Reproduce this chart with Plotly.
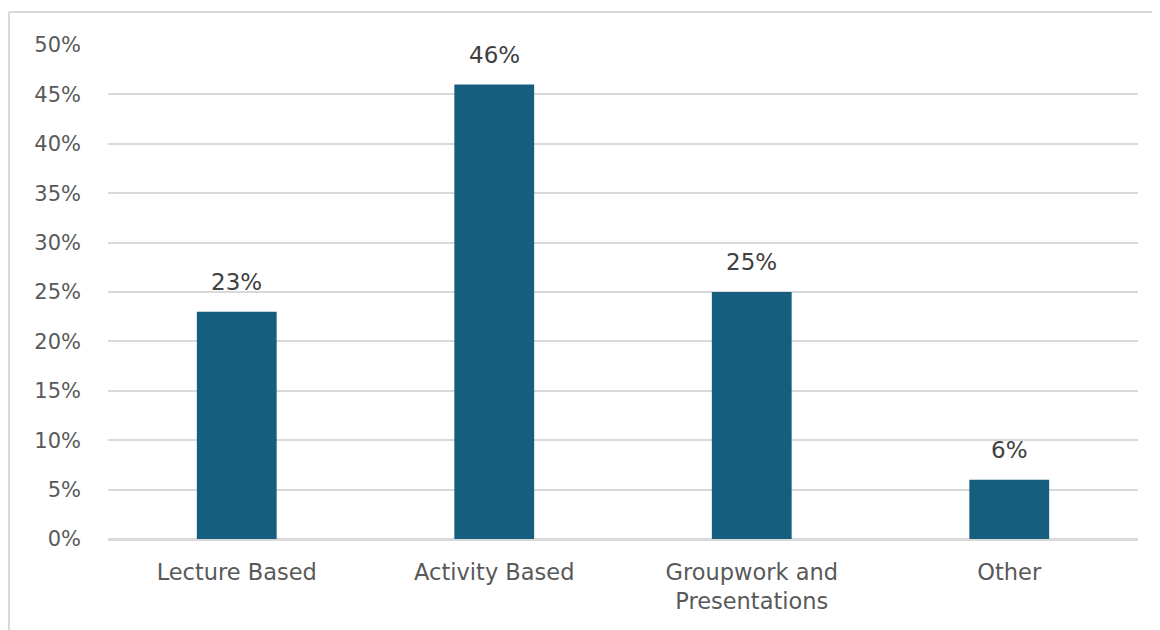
import plotly.graph_objects as go

categories = ["Lecture Based", "Activity Based", "Groupwork and<br>Presentations", "Other"]
values = [0.23, 0.46, 0.25, 0.06]
labels = ["23%", "46%", "25%", "6%"]
tick_vals = [0, 0.05, 0.10, 0.15, 0.20, 0.25, 0.30, 0.35, 0.40, 0.45, 0.50]
tick_text = ["0%", "5%", "10%", "15%", "20%", "25%", "30%", "35%", "40%", "45%", "50%"]

# page has 8px body margin, so figure is slightly smaller than the window
W, H = 1152, 622
ML, MR, MT, MB = 100, 22, 37, 91
pw, ph = W - ML - MR, H - MT - MB

def px_x(x):
    return (x - ML) / pw

def px_y(y):
    return (H - MB - y) / ph

FONT = "DejaVu Sans"

fig = go.Figure()
fig.add_trace(go.Bar(
    x=categories, y=values,
    marker=dict(color="#165E80", line=dict(width=0)),
    hoverinfo="skip",
))

for c, v, t in zip(categories, values, labels):
    fig.add_annotation(x=c, y=v, text=t, showarrow=False, yanchor="bottom",
                       yshift=15, font=dict(family=FONT, size=23, color="#404040"))

# chart border (left and top edges)
fig.add_shape(type="line", xref="paper", yref="paper",
              x0=px_x(1), x1=px_x(1), y0=px_y(4), y1=px_y(640),
              line=dict(color="#d9d9d9", width=2))
fig.add_shape(type="line", xref="paper", yref="paper",
              x0=px_x(1), x1=px_x(1170), y0=px_y(4), y1=px_y(4),
              line=dict(color="#d9d9d9", width=2))

fig.update_layout(
    width=W, height=H,
    margin=dict(l=ML, r=MR, t=MT, b=MB),
    plot_bgcolor="white", paper_bgcolor="white",
    bargap=0.69,
    showlegend=False,
    font=dict(family=FONT, size=21, color="#595959"),
    xaxis=dict(showgrid=False, showline=False, ticks="", ticklabelstandoff=17,
               tickfont=dict(family=FONT, size=22.5, color="#595959")),
    yaxis=dict(range=[0, 0.5], tickvals=tick_vals, ticktext=tick_text,
               showgrid=True, gridcolor="#d9d9d9", gridwidth=2,
               zeroline=True, zerolinecolor="#d9d9d9", zerolinewidth=3,
               showline=False, ticks="", ticklabelstandoff=26,
               tickfont=dict(family=FONT, size=21, color="#595959")),
)

fig.write_html("out.html")
